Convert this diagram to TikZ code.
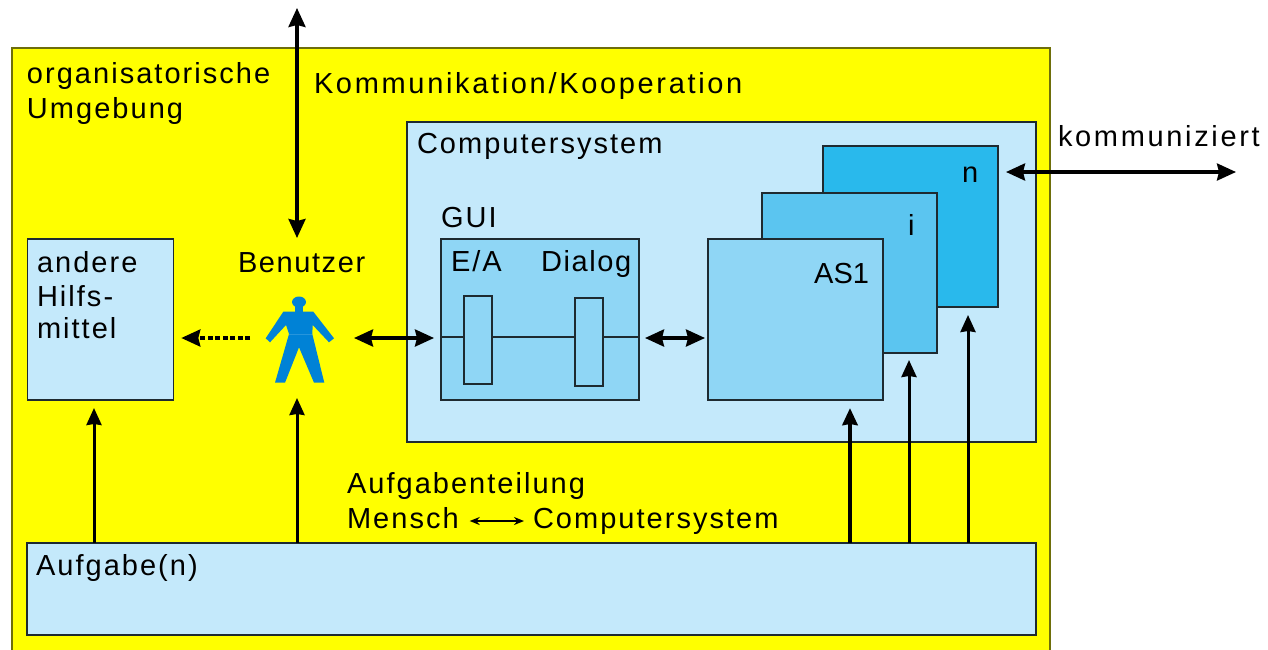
\documentclass[tikz,border=0pt]{standalone}
\usepackage{fontspec}
\setmainfont[LetterSpace=7]{Liberation Sans}
\newfontfamily\widef[LetterSpace=9.2]{Liberation Sans}
\newfontfamily\tightf[LetterSpace=0]{Liberation Sans}
\newfontfamily\midf[LetterSpace=5.5]{Liberation Sans}
\usetikzlibrary{arrows.meta,calc}
\definecolor{yel}{RGB}{255,255,0}
\definecolor{yelline}{RGB}{110,110,10}
\definecolor{lightb}{RGB}{196,233,251}
\definecolor{midb}{RGB}{143,214,245}
\definecolor{appi}{RGB}{91,197,240}
\definecolor{appn}{RGB}{41,185,236}
\definecolor{figb}{RGB}{0,130,214}
\definecolor{linec}{RGB}{30,42,48}
\tikzset{
  box/.style={draw=linec,line width=1.6pt,inner sep=0pt,outer sep=0pt,rectangle},
  txt/.style={anchor=base west,inner sep=0pt,outer sep=0pt,font=\fontsize{29}{32}\selectfont,text=black},
  txte/.style={txt,anchor=base east},
  dbl/.style={line width=3.3pt,{Stealth[length=19pt,width=17pt,inset=2pt]}-{Stealth[length=19pt,width=17pt,inset=2pt]}},
  upa/.style={line width=3pt,-{Stealth[length=17pt,width=15pt,inset=1pt]}},
}
\begin{document}
\begin{tikzpicture}[x=1pt,y=-1pt]
\useasboundingbox (0,0) rectangle (1268,649);
\fill[white] (0,0) rectangle (1268,649);
\clip (0,0) rectangle (1268,649);
\node[box,fill=yel,draw=yelline,minimum width=1038pt,minimum height=620pt] (umg) at (531,358) {};
\node[box,fill=lightb,minimum width=146pt,minimum height=161pt] (hilf) at (100.3,319.5) {};
\node[box,fill=lightb,minimum width=629pt,minimum height=320pt] (cs) at (721.5,282) {};
\node[box,fill=midb,minimum width=198pt,minimum height=161pt] (gui) at (540,319.5) {};
\draw[linec,line width=1.6pt] (gui.west |- 0,337) coordinate (gl) -- (gui.east |- 0,337) coordinate (gr);
\node[box,fill=midb,minimum width=28pt,minimum height=88pt] (ea) at (478,340) {};
\node[box,fill=midb,minimum width=28pt,minimum height=88pt] (dlg) at (589,342) {};
\node[box,fill=appn,minimum width=175pt,minimum height=161pt] (n) at (910.5,226.5) {};
\node[box,fill=appi,minimum width=175pt,minimum height=160pt] (i) at (849.5,273) {};
\node[box,fill=midb,minimum width=175pt,minimum height=161pt] (as) at (795.5,319.5) {};
\node[box,fill=lightb,minimum width=1009pt,minimum height=92pt] (auf) at (531.5,589) {};
% figure
\fill[figb] (283.3,311.7) -- (313.3,311.7) -- (334,338.3) -- (329,342.3) -- (312.7,325) -- (312.3,334) -- (324.3,382.7) -- (314,382.7) -- (299,347.3) -- (285,382.7) -- (275,382.7) -- (289,334) -- (286,325) -- (270,342.3) -- (265.7,338.3) -- cycle;
\fill[figb] (295,304) rectangle (303,312);
\fill[figb] (299,302) ellipse (7pt and 5.5pt);
\draw[figb!85!white,line width=0.8pt] (289,334) -- (312.3,334);
\node[inner sep=0pt,outer sep=0pt,minimum width=104pt,minimum height=160pt] (user) at (302,318) {};
\coordinate (hy) at (0,338);
\coordinate (top) at (297,8);
\coordinate (ri) at (1236,172);
% text
\node[txt] (t1) at (27,83.5) {organisatorische};
\node[txt] (t2) at (27,118.5) {Umgebung};
\node[txt] (t3) at (314,93.5) {\widef Kommunikation/Kooperation};
\node[txt] (t4) at (417,153.5) {Computersystem};
\node[txt] (t5) at (441,227.5) {GUI};
\node[txt] (t6) at (451,271.5) {E/A};
\node[txt] (t7) at (541,271.5) {\midf Dialog};
\node[txte] (t8) at (869,283) {\tightf AS1};
\node[txt] (t9) at (908,235.5) {i};
\node[txt] (t10) at (962,182.5) {n};
\node[txt] (t11) at (1058,146.5) {\widef kommuniziert};
\node[txt] (t12) at (37,272.5) {andere};
\node[txt] (t13) at (37,306.5) {Hilfs-};
\node[txt] (t14) at (37,338.5) {mittel};
\node[txt] (t15) at (238,272.5) {\midf Benutzer};
\node[txt] (t16) at (347,493.5) {Aufgabenteilung};
\node[txt] (t17) at (347,528.5) {Mensch};
\node[txt] (t18) at (533,528.5) {Computersystem};
\node[txt] (t19) at (36,575.5) {Aufgabe(n)};
% connectors
\draw[dbl] (top) -- (top |- user.north);
\draw[upa] (auf.north -| top) -- (top |- user.south);
\draw[line width=3.3pt,dash pattern=on 5pt off 2.5pt,-{Stealth[length=19pt,width=17pt,inset=2pt]},shorten >=8pt] (user.west |- hy) -- (hilf.east |- hy);
\draw[dbl,shorten >=7pt] (user.east |- hy) -- (gui.west |- hy);
\draw[dbl,shorten <=6pt,shorten >=3pt] (gui.east |- hy) -- (as.west |- hy);
\draw[dbl,shorten <=8pt] (n.east |- ri) -- (ri);
\draw[upa,shorten >=8pt] (auf.north -| 94,0) -- (hilf.south -| 94,0);
\draw[upa,line width=4.5pt,shorten >=8pt] (auf.north -| 850,0) -- (as.south -| 850,0);
\draw[upa,shorten >=7pt] (auf.north -| 909,0) -- (i.south -| 909,0);
\draw[upa,shorten >=8pt] (auf.north -| 968,0) -- (n.south -| 968,0);
\draw[line width=1.8pt,{Stealth[length=10pt,width=8pt]}-{Stealth[length=10pt,width=8pt]},shorten <=11pt,shorten >=9pt] (t17.east |- 0,521) -- (t18.west |- 0,521);
\end{tikzpicture}
\end{document}
